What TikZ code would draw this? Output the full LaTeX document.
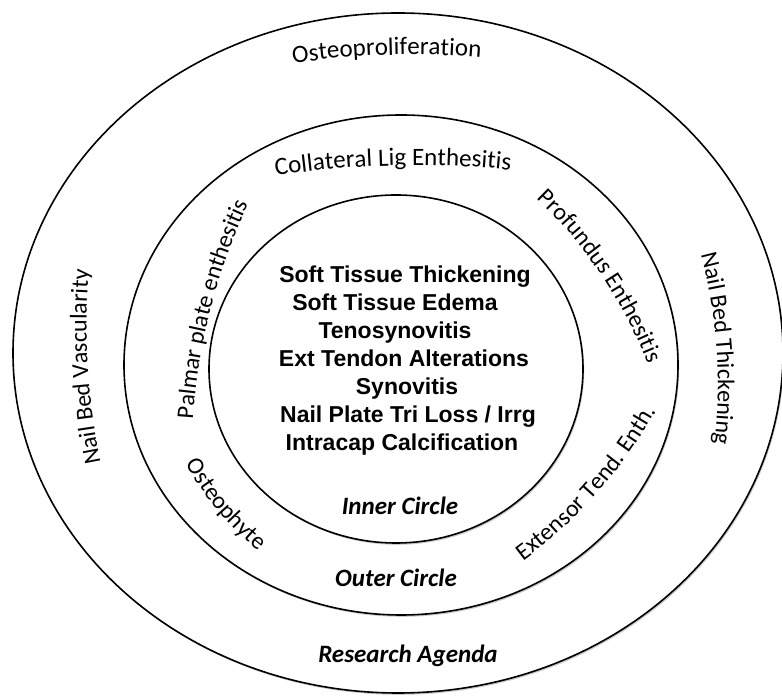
\documentclass[tikz,border=0pt]{standalone}
\usepackage{fontspec}
\setmainfont{Carlito}
\newfontfamily\arialfont{Liberation Sans}
\usetikzlibrary{calc,shadows,decorations.text}

\newcommand\ringfont{\fontsize{24}{29}\selectfont}
\newcommand\topfont{\fontsize{25}{30}\selectfont}

\begin{document}
\begin{tikzpicture}[x=1pt,y=1pt,
    ring/.style={draw=black,line width=1.6pt,fill=white,
      drop shadow={shadow xshift=1.2pt,shadow yshift=-1.8pt,opacity=.35,fill=black!60}},
    finding/.style={font=\arialfont\bfseries\fontsize{23}{27}\selectfont,anchor=base,inner sep=0pt},
    circlename/.style={font=\bfseries\itshape\fontsize{25}{30}\selectfont,anchor=base,inner sep=0pt},
    curved/.style={decorate,decoration={text along path,text align=center,text={#1}}}]
  \useasboundingbox (0,0) rectangle (782,696);

  % rings
  \filldraw[ring] (398,343) ellipse [x radius=385,y radius=340];
  \filldraw[ring] (401,331) ellipse [x radius=277,y radius=250];
  \filldraw[ring] (396,327) ellipse [x radius=187,y radius=174];

  % inner circle findings
  \foreach \txt/\xc/\yb [count=\i] in {Soft Tissue Thickening/405/413,
      Soft Tissue Edema/395/385, Tenosynovitis/395/357,
      Ext Tendon Alterations/404/329, Synovitis/407/301,
      {Nail Plate Tri Loss / Irrg}/408/273, Intracap Calcification/402/245}
    \node[finding] (find\i) at (\xc,\yb) {\txt};

  % circle names
  \node[circlename] (innername) at (400,181) {Inner Circle};
  \node[circlename] (outername) at (396,109) {Outer Circle};
  \node[circlename] (agendaname) at (408,33) {Research Agenda};

  % centres of the text arcs
  \coordinate (cOstpro) at (413.5,-208.6);
  \coordinate (cVasc) at (776.6,371.2);
  \coordinate (cThick) at (217.9,311.7);
  \coordinate (cColl) at (416.2,-419.2);
  \coordinate (cPalm) at (791.6,237);
  \coordinate (cProf) at (221.2,165.4);
  \coordinate (cExt) at (234.2,524.4);
  \coordinate (cOphyte) at (448.2,377.7);

  % research agenda ring
  \path[curved={|\topfont|Osteoproliferation}]
    ($(cOstpro)+(106.8:850)$) arc[start angle=106.8,end angle=76.8,radius=850];
  \path[curved={|\ringfont|Nail Bed Vascularity}]
    ($(cVasc)+(198.5:690)$) arc[start angle=198.5,end angle=168.5,radius=690];
  \path[curved={|\ringfont|Nail Bed Thickening}]
    ($(cThick)+(19.1:500)$) arc[start angle=19.1,end angle=-10.9,radius=500];

  % outer circle ring
  \path[curved={|\topfont|Collateral Lig Enthesitis}]
    ($(cColl)+(106.4:950)$) arc[start angle=106.4,end angle=76.4,radius=950];
  \path[curved={|\ringfont|Palmar plate enthesitis}]
    ($(cPalm)+(185.5:600)$) arc[start angle=185.5,end angle=145.5,radius=600];
  \path[curved={|\ringfont|Profundus Enthesitis}]
    ($(cProf)+(53.9:458)$) arc[start angle=53.9,end angle=13.9,radius=458];
  \path[curved={|\ringfont|Extensor Tend. Enth.}]
    ($(cExt)+(-61.5:485)$) arc[start angle=-61.5,end angle=-21.5,radius=485];
  \path[curved={|\ringfont|Osteophyte}]
    ($(cOphyte)+(199.9:300)$) arc[start angle=199.9,end angle=239.9,radius=300];
\end{tikzpicture}
\end{document}
